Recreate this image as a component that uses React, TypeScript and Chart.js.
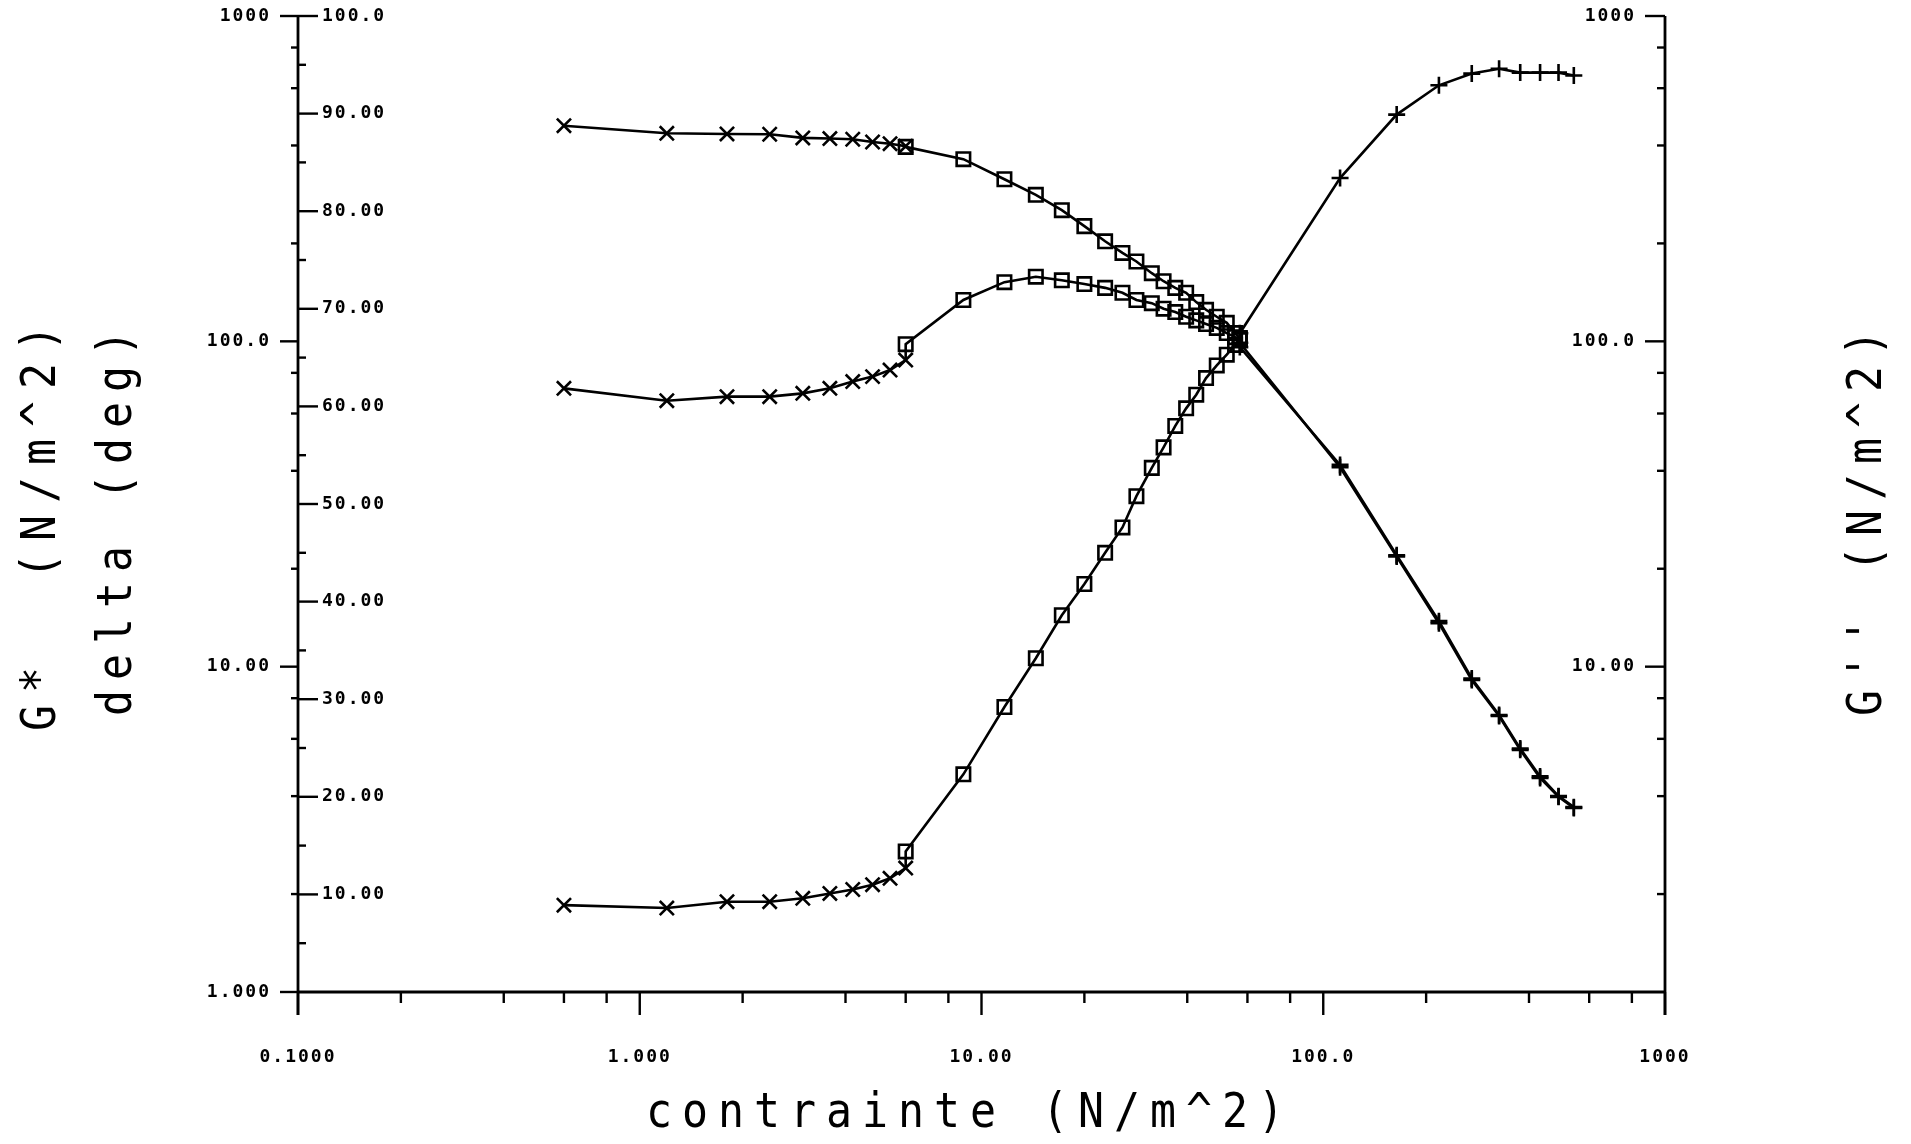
import React, { useEffect, useRef } from 'react';
import { Chart, registerables } from 'chart.js';

Chart.register(...registerables);

const WIDTH = 1911;
const HEIGHT = 1144;

// Applied stress (N/m^2) of the three stress sweeps
const stressLow = [0.6, 1.2, 1.8, 2.4, 3.0, 3.6, 4.2, 4.8, 5.4, 6.0];
const stressMid = [6.0, 8.85, 11.67, 14.42, 17.18, 20.0, 23.0, 25.85, 28.4, 31.5, 34.1, 36.9, 39.7, 42.5, 45.4, 48.8, 52.2, 55.2, 57.0];
const stressHigh = [57, 112, 164, 218, 272, 327, 377, 431, 488, 541];

// G* (N/m^2), left log axis
const gStarLow = [460, 436, 434, 433, 422, 420, 418, 410, 405, 398];
const gStarMid = [396, 363, 315, 282, 253, 226, 203, 187, 176, 162, 153, 146, 141, 132, 125, 119, 114, 106, 102];
const gStarHigh = [96, 41.7, 22.0, 13.8, 9.2, 7.1, 5.6, 4.6, 4.0, 3.7];

// G'' (N/m^2), right log axis
const gLossLow = [71.7, 65.7, 67.6, 67.6, 69.2, 71.7, 75.2, 77.9, 81.6, 87.6];
const gLossMid = [98, 134, 152, 158, 154, 150, 146, 141, 134, 131, 126, 123, 119, 116, 113, 110, 106, 103, 101];
const gLossHigh = [99, 41.0, 21.8, 13.6, 9.1, 7.05, 5.55, 4.55, 3.98, 3.68];

// delta (deg), inner left linear axis
const deltaLow = [8.9, 8.6, 9.25, 9.25, 9.6, 10.1, 10.5, 11.0, 11.65, 12.7];
const deltaMid = [14.4, 22.3, 29.2, 34.2, 38.6, 41.8, 45.0, 47.6, 50.8, 53.7, 55.8, 58.0, 59.8, 61.2, 62.9, 64.2, 65.3, 66.3, 67.0];
const deltaHigh = [67.5, 83.4, 89.9, 92.9, 94.1, 94.6, 94.2, 94.2, 94.2, 93.9];

// Tick values and their printed labels
const xTickValues = [0.1, 1, 10, 100, 1000];
const xTickLabels = ['0.1000', '1.000', '10.00', '100.0', '1000'];
const gTickValues = [1, 10, 100, 1000];
const gTickLabels = ['1.000', '10.00', '100.0', '1000'];
const g2TickValues = [10, 100, 1000];
const g2TickLabels = ['10.00', '100.0', '1000'];
const deltaTickValues = [10, 20, 30, 40, 50, 60, 70, 80, 90, 100];
const deltaTickLabels = ['10.00', '20.00', '30.00', '40.00', '50.00', '60.00', '70.00', '80.00', '90.00', '100.0'];
const logMinorSteps = [2, 4, 6, 8];
const deltaMinorValues = [5, 15, 25, 35, 45, 55, 65, 75, 85, 95];

const xTitle = 'contrainte (N/m^2)';
const leftTitle1 = 'G*  (N/m^2)';
const leftTitle2 = 'delta (deg)';
const rightTitle = "G'' (N/m^2)";

const MONO = '"DejaVu Sans Mono", "Liberation Mono", monospace';

const markerRadius: Record<string, number> = { crossRot: 10, rect: 9.5, cross: 8.5 };

function buildSeries(runs: { x: number[]; y: number[]; style: string }[]) {
  const data: { x: number; y: number }[] = [];
  const styles: string[] = [];
  const radii: number[] = [];
  for (const r of runs) {
    r.x.forEach((x, i) => {
      data.push({ x, y: r.y[i] });
      styles.push(r.style);
      radii.push(markerRadius[r.style]);
    });
  }
  return { data, styles, radii };
}

function decadeMinors(min: number, max: number) {
  const out: number[] = [];
  for (let d = min; d < max; d *= 10) {
    for (const m of logMinorSteps) out.push(d * m);
  }
  return out;
}

function spacedText(ctx: CanvasRenderingContext2D, text: string, x: number, y: number, pitch: number, angle: number) {
  ctx.save();
  ctx.translate(x, y);
  ctx.rotate(angle);
  ctx.textAlign = 'center';
  ctx.textBaseline = 'alphabetic';
  const n = text.length;
  for (let i = 0; i < n; i++) {
    ctx.save();
    ctx.translate((i - (n - 1) / 2) * pitch, 0);
    ctx.scale(0.9, 1);
    ctx.fillText(text[i], 0, 0);
    ctx.restore();
  }
  ctx.restore();
}

const plotterAxes = {
  id: 'plotterAxes',
  afterDraw(chart: any) {
    const ctx: CanvasRenderingContext2D = chart.ctx;
    const { left, right, top, bottom } = chart.chartArea;
    const sx = chart.scales.x;
    const sg = chart.scales.yG;
    const sd = chart.scales.yDelta;
    const sg2 = chart.scales.yG2;

    const seg = (x1: number, y1: number, x2: number, y2: number) => {
      ctx.beginPath();
      ctx.moveTo(x1, y1);
      ctx.lineTo(x2, y2);
      ctx.stroke();
    };

    ctx.save();
    ctx.strokeStyle = '#000';
    ctx.fillStyle = '#000';
    ctx.lineCap = 'butt';
    ctx.lineWidth = 2.8;

    // axis lines
    seg(left, top, left, bottom + 23);
    seg(right, top, right, bottom + 23);
    seg(left - 1, bottom, right + 1, bottom);

    ctx.lineWidth = 2.4;
    // bottom axis ticks
    xTickValues.forEach((v) => {
      const px = sx.getPixelForValue(v);
      seg(px, bottom, px, bottom + 23);
    });
    decadeMinors(0.1, 1000).forEach((v) => {
      const px = sx.getPixelForValue(v);
      seg(px, bottom, px, bottom + 11);
    });

    // left log axis ticks (outside)
    gTickValues.forEach((v) => {
      const py = sg.getPixelForValue(v);
      seg(left - 18, py, left, py);
    });
    decadeMinors(1, 1000).forEach((v) => {
      const py = sg.getPixelForValue(v);
      seg(left - 7, py, left, py);
    });

    // delta axis ticks (inside)
    deltaTickValues.forEach((v) => {
      const py = sd.getPixelForValue(v);
      seg(left, py, left + 20, py);
    });
    deltaMinorValues.forEach((v) => {
      const py = sd.getPixelForValue(v);
      seg(left, py, left + 8, py);
    });

    // right log axis ticks (inside)
    g2TickValues.forEach((v) => {
      const py = sg2.getPixelForValue(v);
      seg(right - 20, py, right, py);
    });
    decadeMinors(1, 1000).forEach((v) => {
      const py = sg2.getPixelForValue(v);
      seg(right - 8, py, right, py);
    });

    // tick labels
    ctx.font = `bold 18px ${MONO}`;
    (ctx as any).letterSpacing = '2px';
    ctx.textBaseline = 'middle';

    ctx.textAlign = 'center';
    xTickValues.forEach((v, i) => {
      ctx.fillText(xTickLabels[i], sx.getPixelForValue(v), bottom + 65);
    });

    ctx.textAlign = 'right';
    gTickValues.forEach((v, i) => {
      ctx.fillText(gTickLabels[i], left - 27, sg.getPixelForValue(v));
    });
    g2TickValues.forEach((v, i) => {
      ctx.fillText(g2TickLabels[i], right - 29, sg2.getPixelForValue(v));
    });

    ctx.textAlign = 'left';
    deltaTickValues.forEach((v, i) => {
      ctx.fillText(deltaTickLabels[i], left + 24, sd.getPixelForValue(v));
    });

    // axis titles
    (ctx as any).letterSpacing = '0px';
    ctx.font = `48px ${MONO}`;
    spacedText(ctx, xTitle, 965, 1127, 36, 0);
    spacedText(ctx, leftTitle1, 55, 528, 38, -Math.PI / 2);
    spacedText(ctx, leftTitle2, 131, 523, 36, -Math.PI / 2);
    spacedText(ctx, rightTitle, 1881, 523, 36, -Math.PI / 2);

    ctx.restore();
  },
};

export default function App() {
  const canvasRef = useRef<HTMLCanvasElement | null>(null);

  useEffect(() => {
    const canvas = canvasRef.current;
    if (!canvas) return;

    const gStar = buildSeries([
      { x: stressLow, y: gStarLow, style: 'crossRot' },
      { x: stressMid, y: gStarMid, style: 'rect' },
      { x: stressHigh, y: gStarHigh, style: 'cross' },
    ]);
    const gLoss = buildSeries([
      { x: stressLow, y: gLossLow, style: 'crossRot' },
      { x: stressMid, y: gLossMid, style: 'rect' },
      { x: stressHigh, y: gLossHigh, style: 'cross' },
    ]);
    const delta = buildSeries([
      { x: stressLow, y: deltaLow, style: 'crossRot' },
      { x: stressMid, y: deltaMid, style: 'rect' },
      { x: stressHigh, y: deltaHigh, style: 'cross' },
    ]);

    const common = {
      borderColor: '#000',
      borderWidth: 2.6,
      pointBorderColor: '#000',
      pointBackgroundColor: 'rgba(0,0,0,0)',
      pointBorderWidth: 2.6,
      tension: 0,
      fill: false,
    };

    const chart = new Chart(canvas, {
      type: 'line',
      data: {
        datasets: [
          { ...common, label: 'G*', data: gStar.data, pointStyle: gStar.styles as any, pointRadius: gStar.radii, xAxisID: 'x', yAxisID: 'yG' },
          { ...common, label: "G''", data: gLoss.data, pointStyle: gLoss.styles as any, pointRadius: gLoss.radii, xAxisID: 'x', yAxisID: 'yG2' },
          { ...common, label: 'delta', data: delta.data, pointStyle: delta.styles as any, pointRadius: delta.radii, xAxisID: 'x', yAxisID: 'yDelta' },
        ],
      },
      options: {
        responsive: false,
        maintainAspectRatio: false,
        animation: false,
        events: [],
        layout: { padding: { left: 298, right: 246, top: 16, bottom: 152 } },
        plugins: {
          legend: { display: false },
          tooltip: { enabled: false },
          title: { display: false },
        },
        scales: {
          x: { type: 'logarithmic', min: 0.1, max: 1000, display: false },
          yG: { type: 'logarithmic', min: 1, max: 1000, display: false, position: 'left' },
          yDelta: { type: 'linear', min: 0, max: 100, display: false, position: 'left' },
          yG2: { type: 'logarithmic', min: 1, max: 1000, display: false, position: 'right' },
        },
      },
      plugins: [plotterAxes],
    } as any);

    return () => chart.destroy();
  }, []);

  return (
    <div style={{ position: 'absolute', left: 0, top: 0, width: WIDTH, height: HEIGHT, background: '#fff' }}>
      <canvas ref={canvasRef} width={WIDTH} height={HEIGHT} style={{ display: 'block', width: WIDTH, height: HEIGHT }} />
    </div>
  );
}
